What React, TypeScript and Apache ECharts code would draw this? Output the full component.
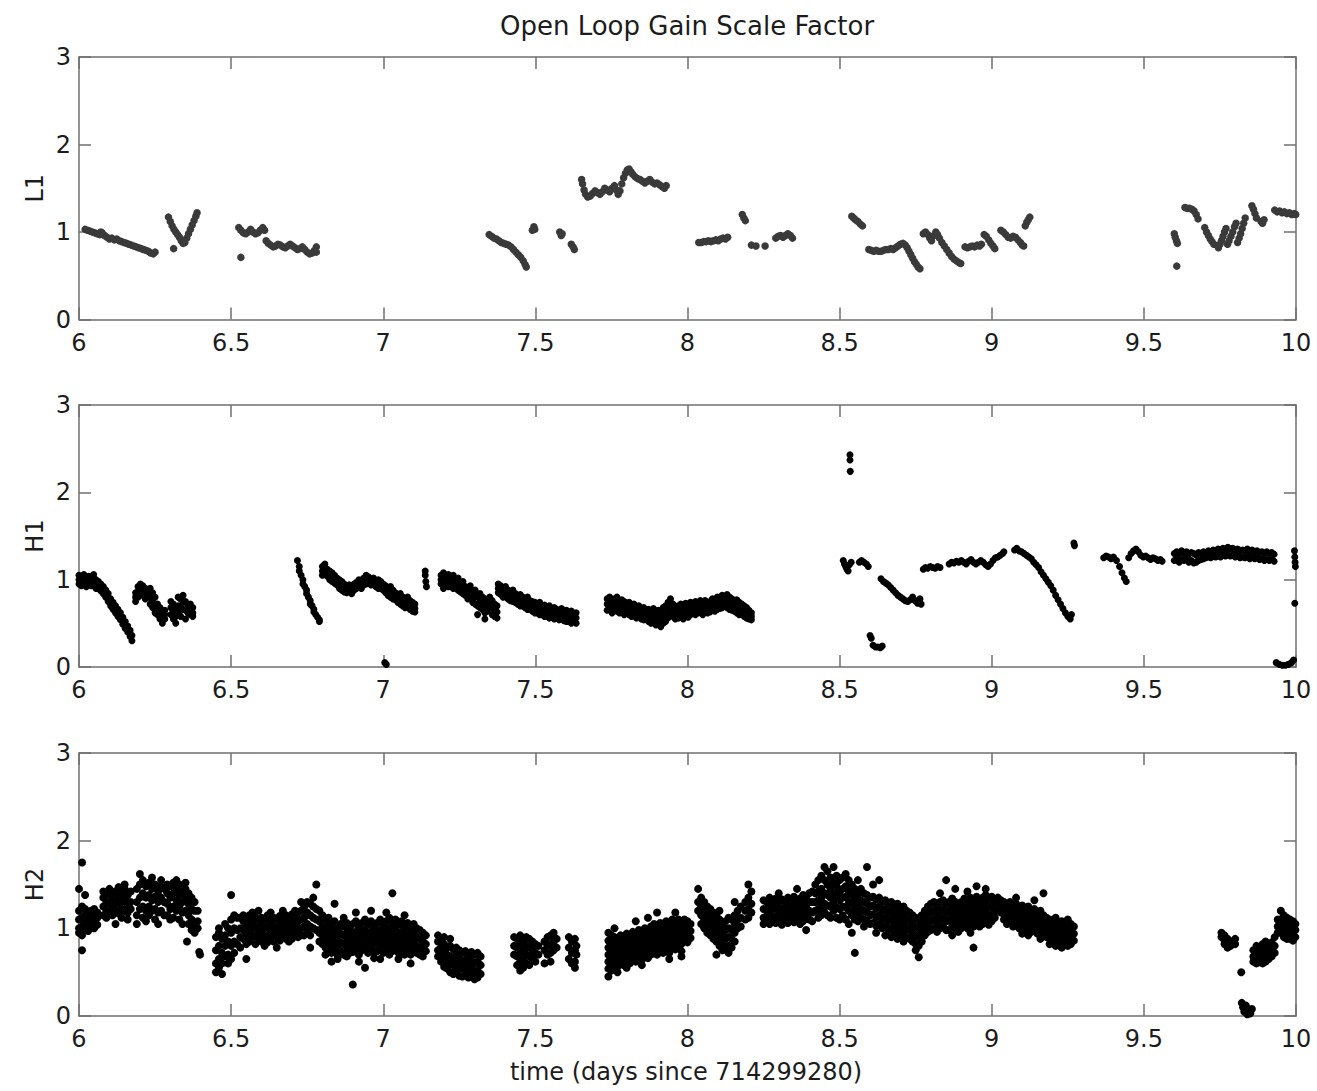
import React, { useEffect, useRef } from "react";
import * as echarts from "echarts";

const titleText = "Open Loop Gain Scale Factor";
const xAxisTitle = "time (days since 714299280)";
const panelNames = ["L1", "H1", "H2"];
const xMin = 6;
const xMax = 10;
const xStep = 0.5;
const yMin = 0;
const yMax = 3;
const yStep = 1;

// L1 gain samples [time, gain]
const l1Data: [number, number][] = [
  [6.02, 1.03], [6.028, 1.02], [6.036, 1.01], [6.044, 1.0], [6.052, 0.99], [6.06, 0.98], [6.068, 0.97], [6.072, 1.0], [6.076, 0.99], [6.084, 0.96],
  [6.092, 0.94], [6.1, 0.92], [6.108, 0.93], [6.116, 0.91], [6.124, 0.92], [6.132, 0.9], [6.14, 0.89], [6.148, 0.88], [6.156, 0.87], [6.164, 0.86],
  [6.172, 0.85], [6.18, 0.84], [6.188, 0.83], [6.196, 0.82], [6.204, 0.81], [6.212, 0.8], [6.22, 0.79], [6.228, 0.78], [6.236, 0.76], [6.244, 0.75], [6.25, 0.77],
  [6.294, 1.17], [6.3, 1.12], [6.306, 1.07], [6.312, 1.03], [6.318, 1.0], [6.324, 0.97], [6.33, 0.94], [6.336, 0.9], [6.342, 0.87], [6.348, 0.88],
  [6.354, 0.93], [6.36, 0.98], [6.366, 1.03], [6.372, 1.08], [6.378, 1.13], [6.384, 1.18], [6.388, 1.22], [6.311, 0.81],
  [6.525, 1.05], [6.532, 1.02], [6.54, 0.99], [6.548, 0.98], [6.556, 1.0], [6.564, 1.03], [6.572, 1.0], [6.58, 0.98], [6.588, 0.99], [6.596, 1.02],
  [6.604, 1.05], [6.61, 1.02], [6.532, 0.71],
  [6.615, 0.9], [6.622, 0.87], [6.63, 0.85], [6.638, 0.83], [6.646, 0.84], [6.654, 0.86], [6.662, 0.85], [6.67, 0.83], [6.678, 0.82], [6.686, 0.84],
  [6.694, 0.86], [6.702, 0.84], [6.71, 0.82], [6.718, 0.8], [6.726, 0.81], [6.734, 0.83], [6.742, 0.8], [6.75, 0.77], [6.758, 0.75], [6.766, 0.76],
  [6.774, 0.79], [6.78, 0.83], [6.78, 0.77],
  [7.348, 0.97], [7.356, 0.95], [7.364, 0.93], [7.372, 0.92], [7.38, 0.9], [7.388, 0.88], [7.396, 0.87], [7.404, 0.86], [7.412, 0.85], [7.42, 0.83],
  [7.428, 0.8], [7.436, 0.77], [7.444, 0.74], [7.452, 0.71], [7.46, 0.67], [7.466, 0.63], [7.47, 0.6],
  [7.49, 1.02], [7.495, 1.06], [7.498, 1.03], [7.58, 1.0], [7.585, 0.96], [7.588, 0.98], [7.618, 0.86], [7.624, 0.83], [7.628, 0.8],
  [7.652, 1.6], [7.655, 1.55], [7.66, 1.48], [7.665, 1.43], [7.672, 1.4], [7.68, 1.41], [7.688, 1.44], [7.696, 1.47], [7.704, 1.45], [7.712, 1.43],
  [7.72, 1.46], [7.728, 1.5], [7.736, 1.48], [7.744, 1.46], [7.752, 1.5], [7.76, 1.53], [7.766, 1.48], [7.772, 1.43], [7.778, 1.47], [7.784, 1.55],
  [7.79, 1.62], [7.796, 1.67], [7.802, 1.71], [7.808, 1.72], [7.814, 1.69], [7.82, 1.66], [7.828, 1.63], [7.836, 1.61], [7.844, 1.6], [7.852, 1.58],
  [7.86, 1.56], [7.868, 1.58], [7.876, 1.6], [7.884, 1.57], [7.892, 1.55], [7.9, 1.56], [7.908, 1.54], [7.916, 1.52], [7.924, 1.5], [7.93, 1.53],
  [8.037, 0.88], [8.045, 0.88], [8.053, 0.89], [8.061, 0.89], [8.069, 0.9], [8.077, 0.89], [8.085, 0.9], [8.093, 0.91], [8.101, 0.9], [8.109, 0.92],
  [8.117, 0.93], [8.125, 0.92], [8.132, 0.94],
  [8.18, 1.2], [8.185, 1.16], [8.19, 1.13], [8.21, 0.85], [8.225, 0.84], [8.255, 0.84],
  [8.29, 0.93], [8.298, 0.95], [8.306, 0.96], [8.314, 0.94], [8.322, 0.96], [8.33, 0.98], [8.338, 0.96], [8.345, 0.93],
  [8.54, 1.18], [8.546, 1.16], [8.552, 1.14], [8.56, 1.12], [8.568, 1.09], [8.575, 1.07],
  [8.596, 0.8], [8.604, 0.79], [8.612, 0.78], [8.62, 0.79], [8.628, 0.78], [8.636, 0.78], [8.644, 0.79], [8.652, 0.8], [8.66, 0.8], [8.668, 0.81],
  [8.676, 0.8], [8.684, 0.82], [8.692, 0.84], [8.7, 0.86], [8.708, 0.87], [8.716, 0.85], [8.722, 0.82], [8.728, 0.78], [8.734, 0.74], [8.74, 0.7],
  [8.746, 0.66], [8.752, 0.63], [8.758, 0.6], [8.764, 0.58],
  [8.775, 0.98], [8.782, 1.0], [8.79, 0.97], [8.796, 0.93], [8.802, 0.9], [8.81, 0.96], [8.816, 1.0], [8.822, 0.97], [8.828, 0.93], [8.836, 0.88],
  [8.844, 0.84], [8.852, 0.8], [8.86, 0.76], [8.868, 0.72], [8.876, 0.69], [8.884, 0.67], [8.892, 0.65], [8.898, 0.64],
  [8.912, 0.83], [8.92, 0.82], [8.928, 0.83], [8.936, 0.84], [8.944, 0.83], [8.952, 0.85], [8.96, 0.84], [8.966, 0.86],
  [8.975, 0.97], [8.982, 0.95], [8.99, 0.91], [8.997, 0.87], [9.004, 0.84], [9.01, 0.81],
  [9.03, 1.02], [9.038, 1.0], [9.046, 0.97], [9.054, 0.94], [9.062, 0.93], [9.07, 0.95], [9.078, 0.94], [9.086, 0.91], [9.094, 0.88], [9.1, 0.85], [9.105, 0.84],
  [9.11, 1.07], [9.115, 1.11], [9.12, 1.14], [9.125, 1.17],
  [9.6, 0.98], [9.603, 0.94], [9.607, 0.9], [9.61, 0.87], [9.608, 0.61],
  [9.635, 1.28], [9.642, 1.27], [9.65, 1.27], [9.658, 1.26], [9.665, 1.24], [9.672, 1.2], [9.678, 1.15],
  [9.7, 1.05], [9.706, 1.0], [9.712, 0.96], [9.718, 0.92], [9.724, 0.89], [9.73, 0.86],
  [9.745, 0.82], [9.75, 0.86], [9.755, 0.9], [9.76, 0.95], [9.765, 1.0], [9.77, 1.04],
  [9.775, 0.86], [9.78, 0.9], [9.786, 0.95], [9.792, 1.0], [9.798, 1.06], [9.803, 1.1],
  [9.808, 0.88], [9.813, 0.93], [9.818, 0.98], [9.823, 1.04], [9.828, 1.1], [9.833, 1.16],
  [9.855, 1.3], [9.86, 1.26], [9.865, 1.21], [9.87, 1.16],
  [9.885, 1.12], [9.89, 1.1], [9.895, 1.14],
  [9.93, 1.25], [9.938, 1.23], [9.946, 1.24], [9.954, 1.22], [9.962, 1.23], [9.97, 1.21], [9.978, 1.22], [9.986, 1.2], [9.994, 1.21], [9.999, 1.2],
];

// H1 gain samples: [time, gains at that time]
const h1Columns: [number, number[]][] = [
  [6.0, [1.05, 1.0, 0.95]], [6.008, [1.02, 0.97, 0.93]], [6.016, [1.06, 1.01, 0.97]], [6.024, [1.0, 0.96, 0.92]], [6.032, [1.04, 1.0, 0.96]],
  [6.04, [1.03, 0.98, 0.93]], [6.048, [1.06, 1.02, 0.97]], [6.056, [1.0, 0.95, 0.9]], [6.064, [0.98, 0.94, 0.9]], [6.072, [0.95, 0.91, 0.87]],
  [6.08, [0.92, 0.88, 0.84]], [6.088, [0.88, 0.84, 0.8]], [6.096, [0.84, 0.79, 0.75]], [6.104, [0.78, 0.74, 0.7]], [6.112, [0.74, 0.7, 0.66]],
  [6.12, [0.7, 0.66, 0.62]], [6.128, [0.66, 0.62, 0.58]], [6.136, [0.62, 0.58, 0.54]], [6.144, [0.57, 0.53, 0.49]], [6.152, [0.52, 0.48, 0.44]],
  [6.16, [0.47, 0.43, 0.4]], [6.168, [0.42, 0.38, 0.35]], [6.174, [0.36, 0.3]],
  [6.186, [0.85, 0.8, 0.75]], [6.194, [0.92, 0.86, 0.8]], [6.202, [0.95, 0.9, 0.85]], [6.21, [0.93, 0.87, 0.82]], [6.218, [0.9, 0.84, 0.78]],
  [6.226, [0.88, 0.84, 0.8]], [6.234, [0.9, 0.8, 0.72]], [6.242, [0.85, 0.76, 0.68]], [6.25, [0.8, 0.7, 0.62]], [6.258, [0.72, 0.66, 0.6]],
  [6.266, [0.68, 0.6, 0.55]], [6.274, [0.62, 0.56, 0.5]], [6.282, [0.65, 0.6, 0.55]],
  [6.302, [0.75, 0.68, 0.6]], [6.31, [0.72, 0.63, 0.55]], [6.318, [0.68, 0.58, 0.5]], [6.326, [0.8, 0.7, 0.62]], [6.334, [0.78, 0.68, 0.58]],
  [6.342, [0.82, 0.74, 0.66]], [6.35, [0.75, 0.65, 0.55]], [6.358, [0.7, 0.66, 0.62]], [6.366, [0.72, 0.66, 0.6]], [6.374, [0.68, 0.62, 0.58]],
  [6.718, [1.22]], [6.724, [1.15, 1.1]], [6.73, [1.05]], [6.736, [1.0, 0.95]], [6.742, [0.92]], [6.748, [0.88, 0.84]], [6.754, [0.8]],
  [6.76, [0.76, 0.72]], [6.766, [0.7]], [6.772, [0.66, 0.63]], [6.778, [0.6]], [6.784, [0.57]], [6.79, [0.54, 0.52]],
  [6.8, [1.15, 1.1, 1.05]], [6.808, [1.18, 1.13, 1.08]], [6.816, [1.12, 1.08, 1.04]], [6.824, [1.1, 1.05, 1.0]], [6.832, [1.08, 1.03, 0.98]],
  [6.84, [1.05, 1.0, 0.96]], [6.848, [1.02, 0.98, 0.94]], [6.856, [1.0, 0.95, 0.9]], [6.864, [0.98, 0.93, 0.88]], [6.872, [0.95, 0.9, 0.86]],
  [6.88, [0.92, 0.88, 0.85]], [6.888, [0.94, 0.9, 0.87]], [6.896, [0.9, 0.87, 0.84]], [6.904, [0.95, 0.91, 0.88]], [6.912, [0.97, 0.93, 0.9]],
  [6.92, [1.0, 0.96, 0.92]], [6.928, [0.98, 0.94, 0.9]], [6.936, [1.02, 0.98, 0.94]], [6.944, [1.05, 1.0, 0.95]], [6.952, [1.03, 0.99, 0.96]],
  [6.96, [1.0, 0.97, 0.94]], [6.968, [1.02, 0.98, 0.95]], [6.976, [0.98, 0.95, 0.92]], [6.984, [1.0, 0.95, 0.9]],
  [6.992, [0.98, 0.94, 0.9]], [7.0, [0.95, 0.91, 0.88]], [7.008, [0.93, 0.89, 0.85]], [7.016, [0.9, 0.86, 0.82]], [7.024, [0.92, 0.86, 0.8]],
  [7.032, [0.88, 0.83, 0.78]], [7.04, [0.85, 0.81, 0.77]], [7.048, [0.82, 0.78, 0.74]], [7.056, [0.84, 0.78, 0.72]], [7.064, [0.8, 0.75, 0.7]],
  [7.072, [0.78, 0.73, 0.68]], [7.08, [0.8, 0.75, 0.7]], [7.088, [0.76, 0.71, 0.66]], [7.096, [0.74, 0.69, 0.64]], [7.104, [0.72, 0.67, 0.63]],
  [7.005, [0.05]], [7.01, [0.03]],
  [7.138, [1.1, 1.05]], [7.14, [0.98]], [7.142, [0.92]],
  [7.19, [1.05, 1.0, 0.95]], [7.198, [1.08, 0.98, 0.9]], [7.206, [1.04, 1.0, 0.96]], [7.214, [1.06, 0.99, 0.92]], [7.222, [1.02, 0.98, 0.95]],
  [7.23, [1.05, 0.97, 0.9]], [7.238, [1.0, 0.96, 0.93]], [7.246, [1.02, 0.95, 0.88]], [7.254, [0.96, 0.91, 0.86]], [7.262, [0.98, 0.91, 0.84]],
  [7.27, [0.92, 0.87, 0.82]], [7.278, [0.9, 0.84, 0.78]], [7.286, [0.93, 0.86, 0.8]], [7.294, [0.86, 0.8, 0.74]], [7.302, [0.88, 0.8, 0.72]],
  [7.31, [0.82, 0.7, 0.6]], [7.318, [0.84, 0.76, 0.68]], [7.326, [0.8, 0.73, 0.66]], [7.334, [0.78, 0.62, 0.55]], [7.342, [0.75, 0.7, 0.64]],
  [7.35, [0.8, 0.74, 0.68]], [7.358, [0.76, 0.68, 0.6]], [7.366, [0.72, 0.65, 0.58]], [7.374, [0.7, 0.63, 0.56]],
  [7.378, [0.95, 0.9, 0.85]], [7.386, [0.93, 0.88, 0.83]], [7.394, [0.9, 0.85, 0.8]], [7.402, [0.92, 0.87, 0.82]], [7.41, [0.88, 0.83, 0.78]],
  [7.418, [0.86, 0.81, 0.76]], [7.426, [0.88, 0.82, 0.75]], [7.434, [0.84, 0.79, 0.74]], [7.442, [0.82, 0.77, 0.72]], [7.45, [0.83, 0.77, 0.7]],
  [7.458, [0.8, 0.75, 0.7]], [7.466, [0.78, 0.73, 0.68]], [7.474, [0.8, 0.73, 0.66]], [7.482, [0.76, 0.71, 0.66]], [7.49, [0.75, 0.7, 0.64]],
  [7.498, [0.74, 0.68, 0.62]], [7.506, [0.72, 0.67, 0.62]], [7.514, [0.74, 0.67, 0.6]], [7.522, [0.7, 0.65, 0.6]], [7.53, [0.71, 0.65, 0.58]],
  [7.538, [0.68, 0.63, 0.58]], [7.546, [0.7, 0.63, 0.56]], [7.554, [0.67, 0.62, 0.57]], [7.562, [0.68, 0.61, 0.55]], [7.57, [0.66, 0.61, 0.56]],
  [7.578, [0.65, 0.6, 0.54]], [7.586, [0.67, 0.61, 0.55]], [7.594, [0.64, 0.58, 0.53]], [7.602, [0.65, 0.58, 0.52]], [7.61, [0.62, 0.57, 0.52]],
  [7.618, [0.64, 0.57, 0.5]], [7.626, [0.6, 0.56, 0.52]], [7.634, [0.62, 0.56, 0.5]],
  [7.736, [0.78, 0.72, 0.65]], [7.744, [0.8, 0.74, 0.68]], [7.752, [0.76, 0.69, 0.62]], [7.76, [0.78, 0.72, 0.66]], [7.768, [0.8, 0.72, 0.64]],
  [7.776, [0.74, 0.68, 0.62]], [7.784, [0.77, 0.7, 0.64]], [7.792, [0.75, 0.68, 0.6]], [7.8, [0.72, 0.67, 0.62]], [7.808, [0.74, 0.67, 0.6]],
  [7.816, [0.7, 0.64, 0.58]], [7.824, [0.72, 0.66, 0.6]], [7.832, [0.68, 0.62, 0.56]], [7.84, [0.7, 0.64, 0.58]], [7.848, [0.66, 0.6, 0.55]],
  [7.856, [0.68, 0.61, 0.54]], [7.864, [0.65, 0.6, 0.55]], [7.872, [0.66, 0.59, 0.52]], [7.88, [0.64, 0.57, 0.5]], [7.888, [0.67, 0.6, 0.52]],
  [7.896, [0.62, 0.55, 0.48]], [7.904, [0.65, 0.57, 0.5]], [7.912, [0.62, 0.54, 0.46]], [7.92, [0.68, 0.59, 0.5]], [7.928, [0.7, 0.61, 0.52]],
  [7.936, [0.74, 0.65, 0.56]], [7.944, [0.78, 0.69, 0.6]], [7.952, [0.72, 0.65, 0.58]], [7.96, [0.68, 0.62, 0.55]],
  [7.97, [0.7, 0.63, 0.56]], [7.978, [0.72, 0.65, 0.58]], [7.986, [0.68, 0.62, 0.55]], [7.994, [0.73, 0.66, 0.6]], [8.002, [0.7, 0.63, 0.57]],
  [8.01, [0.74, 0.67, 0.6]], [8.018, [0.72, 0.67, 0.62]], [8.026, [0.75, 0.68, 0.6]], [8.034, [0.73, 0.67, 0.62]], [8.042, [0.76, 0.7, 0.63]],
  [8.05, [0.74, 0.67, 0.6]], [8.058, [0.76, 0.7, 0.64]], [8.066, [0.72, 0.67, 0.62]], [8.074, [0.75, 0.69, 0.63]], [8.082, [0.78, 0.72, 0.65]],
  [8.09, [0.76, 0.7, 0.64]], [8.098, [0.8, 0.73, 0.66]], [8.106, [0.78, 0.72, 0.67]], [8.114, [0.82, 0.75, 0.68]], [8.122, [0.8, 0.75, 0.7]],
  [8.13, [0.83, 0.76, 0.68]], [8.138, [0.8, 0.73, 0.66]], [8.146, [0.78, 0.71, 0.65]], [8.154, [0.76, 0.7, 0.64]], [8.162, [0.77, 0.7, 0.62]],
  [8.17, [0.74, 0.67, 0.6]], [8.178, [0.72, 0.67, 0.62]], [8.186, [0.7, 0.64, 0.58]], [8.194, [0.68, 0.62, 0.56]], [8.202, [0.65, 0.6, 0.55]],
  [8.21, [0.62, 0.58, 0.54]],
  [8.534, [2.43, 2.37]], [8.535, [2.24]],
  [8.512, [1.22]], [8.516, [1.18]], [8.52, [1.15]], [8.524, [1.12]], [8.528, [1.1]], [8.532, [1.17]], [8.538, [1.2]],
  [8.565, [1.2]], [8.572, [1.22]], [8.58, [1.2]], [8.588, [1.18]], [8.594, [1.15]],
  [8.636, [1.01]], [8.644, [0.98]], [8.652, [0.96]], [8.66, [0.94]], [8.668, [0.91]], [8.676, [0.88]], [8.684, [0.85]], [8.692, [0.82]],
  [8.7, [0.8]], [8.708, [0.78]], [8.716, [0.76]], [8.724, [0.75]], [8.732, [0.77]], [8.74, [0.8]], [8.748, [0.76]], [8.756, [0.73]],
  [8.764, [0.78]], [8.768, [0.72]],
  [8.6, [0.36]], [8.604, [0.33]], [8.61, [0.25]], [8.618, [0.23]], [8.626, [0.23]], [8.634, [0.22]], [8.64, [0.24]],
  [8.775, [1.12]], [8.782, [1.14]], [8.79, [1.13]], [8.798, [1.15]], [8.806, [1.14]], [8.814, [1.13]], [8.822, [1.15]], [8.83, [1.14]],
  [8.86, [1.18]], [8.868, [1.2]], [8.876, [1.19]], [8.884, [1.21]], [8.892, [1.2]], [8.9, [1.22]], [8.908, [1.2]], [8.916, [1.18]],
  [8.924, [1.21]], [8.932, [1.23]], [8.94, [1.2]], [8.948, [1.18]], [8.956, [1.2]], [8.964, [1.22]], [8.972, [1.2]], [8.98, [1.17]],
  [8.988, [1.15]], [8.996, [1.18]], [9.004, [1.22]], [9.012, [1.25]], [9.02, [1.26]], [9.028, [1.28]], [9.036, [1.3]], [9.04, [1.32]],
  [9.075, [1.34]], [9.082, [1.36]], [9.09, [1.33]], [9.098, [1.32]], [9.106, [1.3]], [9.114, [1.28]], [9.122, [1.26]], [9.13, [1.24]],
  [9.138, [1.2]], [9.146, [1.17]], [9.154, [1.14]], [9.162, [1.09]], [9.17, [1.05]], [9.178, [1.01]], [9.186, [0.97]], [9.194, [0.93]],
  [9.202, [0.88]], [9.21, [0.82]], [9.218, [0.77]], [9.226, [0.72]], [9.234, [0.67]], [9.242, [0.62]], [9.25, [0.58]], [9.258, [0.55]], [9.262, [0.6]],
  [9.27, [1.42]], [9.272, [1.39]],
  [9.368, [1.25]], [9.376, [1.27]], [9.384, [1.26]], [9.392, [1.24]], [9.4, [1.26]], [9.41, [1.22]], [9.42, [1.15]], [9.428, [1.08]],
  [9.436, [1.02]], [9.442, [0.98]],
  [9.45, [1.25]], [9.458, [1.3]], [9.466, [1.33]], [9.474, [1.35]], [9.482, [1.32]], [9.49, [1.28]], [9.498, [1.26]], [9.506, [1.27]],
  [9.514, [1.25]], [9.522, [1.23]], [9.53, [1.25]], [9.538, [1.24]], [9.546, [1.22]], [9.554, [1.23]], [9.56, [1.21]],
  [9.6, [1.3, 1.22]], [9.608, [1.32, 1.24]], [9.616, [1.3, 1.2]], [9.624, [1.33, 1.23]], [9.632, [1.3, 1.22]], [9.64, [1.32, 1.25]],
  [9.648, [1.29, 1.2]], [9.656, [1.31, 1.22]], [9.664, [1.3, 1.19]], [9.672, [1.28, 1.2]], [9.68, [1.31, 1.22]], [9.688, [1.3, 1.23]],
  [9.696, [1.32, 1.24]], [9.704, [1.31, 1.25]], [9.712, [1.33, 1.26]], [9.72, [1.32, 1.25]], [9.728, [1.34, 1.27]], [9.736, [1.33, 1.26]],
  [9.744, [1.35, 1.27]], [9.752, [1.34, 1.26]], [9.76, [1.36, 1.28]], [9.768, [1.34, 1.27]], [9.776, [1.37, 1.28]], [9.784, [1.35, 1.27]],
  [9.792, [1.36, 1.28]], [9.8, [1.34, 1.26]], [9.808, [1.35, 1.27]], [9.816, [1.33, 1.25]], [9.824, [1.34, 1.26]], [9.832, [1.33, 1.25]],
  [9.84, [1.35, 1.27]], [9.848, [1.33, 1.24]], [9.856, [1.34, 1.26]], [9.864, [1.32, 1.24]], [9.872, [1.33, 1.25]], [9.88, [1.31, 1.23]],
  [9.888, [1.32, 1.24]], [9.896, [1.3, 1.22]], [9.904, [1.32, 1.23]], [9.912, [1.3, 1.22]], [9.92, [1.31, 1.23]], [9.928, [1.29, 1.21]],
  [9.995, [1.33]], [9.996, [1.26, 0.73]], [9.997, [1.2]], [9.998, [1.15]],
  [9.935, [0.05]], [9.945, [0.03]], [9.955, [0.02]], [9.965, [0.02]], [9.975, [0.03]], [9.985, [0.05]], [9.992, [0.08]],
];

// H2 gain samples: [time, gains at that time]
const h2Columns: [number, number[]][] = [
  [6.0, [1.2, 1.1, 1.0, 0.95, 1.45]], [6.01, [1.25, 1.12, 1.02, 0.92, 1.75, 0.75]], [6.02, [1.22, 1.08, 0.98, 1.15, 1.38]],
  [6.03, [1.18, 1.05, 0.97, 1.12]], [6.04, [1.2, 1.1, 1.02, 1.14]], [6.05, [1.15, 1.05, 1.0, 1.22]], [6.06, [1.12, 1.04, 1.18]],
  [6.08, [1.35, 1.25, 1.15, 1.42]], [6.09, [1.4, 1.3, 1.2, 1.12]], [6.1, [1.38, 1.28, 1.18, 1.45]], [6.11, [1.33, 1.25, 1.15, 1.4]],
  [6.12, [1.42, 1.3, 1.2, 1.05]], [6.13, [1.36, 1.28, 1.17, 1.47]], [6.14, [1.4, 1.3, 1.22, 1.12]], [6.15, [1.45, 1.33, 1.2, 1.5]],
  [6.16, [1.38, 1.27, 1.18, 1.1]], [6.17, [1.42, 1.3, 1.22]],
  [6.19, [1.45, 1.3, 1.15, 1.05]], [6.2, [1.5, 1.35, 1.22, 1.62]], [6.21, [1.55, 1.4, 1.25, 1.12]], [6.22, [1.48, 1.35, 1.2, 1.08]],
  [6.23, [1.52, 1.38, 1.25, 1.15]], [6.24, [1.45, 1.32, 1.2, 1.58]], [6.25, [1.5, 1.36, 1.22, 1.1]], [6.26, [1.42, 1.3, 1.18, 1.05]],
  [6.27, [1.48, 1.35, 1.2, 1.55]], [6.28, [1.45, 1.3, 1.15]], [6.29, [1.4, 1.28, 1.15, 1.5]], [6.3, [1.48, 1.35, 1.22, 1.1]],
  [6.31, [1.52, 1.4, 1.25, 1.12]], [6.32, [1.45, 1.32, 1.2, 1.55]], [6.33, [1.5, 1.38, 1.25, 1.1]], [6.34, [1.42, 1.3, 1.18, 1.05]],
  [6.35, [1.45, 1.35, 1.2, 1.52]], [6.36, [1.4, 1.28, 1.15, 1.05]], [6.37, [1.35, 1.22, 1.1, 0.98]], [6.38, [1.3, 1.2, 1.05, 0.95]],
  [6.39, [1.2, 1.08, 1.0]], [6.355, [0.85]], [6.395, [0.73]], [6.398, [0.7]],
  [6.45, [0.9, 0.75, 0.6, 0.5]], [6.46, [0.95, 0.8, 0.65, 0.55, 1.0]], [6.47, [0.88, 0.72, 0.6, 0.48]], [6.48, [0.92, 0.8, 0.68, 1.05]],
  [6.49, [1.0, 0.85, 0.7, 0.6]], [6.5, [1.1, 0.95, 0.8, 0.65, 1.38]], [6.51, [1.15, 1.0, 0.85, 0.72]], [6.52, [1.12, 0.98, 0.82]],
  [6.53, [1.12, 1.0, 0.9, 0.78]], [6.54, [1.08, 0.98, 0.88, 1.15]], [6.55, [1.1, 1.02, 0.92, 0.82, 0.65]], [6.56, [1.15, 1.05, 0.95, 0.85]],
  [6.57, [1.08, 1.0, 0.9, 1.18]], [6.58, [1.12, 1.02, 0.92, 0.82]], [6.59, [1.1, 0.98, 0.88, 1.2]], [6.6, [1.05, 0.95, 0.85, 1.12]],
  [6.61, [1.1, 1.0, 0.9, 0.8]], [6.62, [1.15, 1.02, 0.92, 0.84]], [6.63, [1.08, 0.98, 0.88, 1.18]], [6.64, [1.12, 1.02, 0.94, 0.85]],
  [6.65, [1.1, 1.0, 0.9, 0.78]], [6.66, [1.14, 1.04, 0.95, 0.86]], [6.67, [1.1, 1.0, 0.92, 1.2]], [6.68, [1.15, 1.05, 0.96, 0.88]],
  [6.69, [1.12, 1.02, 0.93, 0.85]], [6.7, [1.16, 1.06, 0.97, 0.88]], [6.71, [1.12, 1.03, 0.95, 1.2]], [6.72, [1.18, 1.08, 0.98, 0.9]],
  [6.73, [1.2, 1.1, 1.0, 0.92, 1.3]], [6.74, [1.25, 1.12, 1.02, 0.92]],
  [6.75, [1.3, 1.18, 1.05, 0.95]], [6.76, [1.28, 1.15, 1.02, 0.92, 0.78]], [6.77, [1.25, 1.12, 1.0, 1.35]], [6.78, [1.22, 1.1, 0.98, 1.5]],
  [6.79, [1.2, 1.08, 0.95, 0.85]], [6.8, [1.15, 1.02, 0.92, 0.82]],
  [6.81, [1.1, 0.98, 0.88, 0.78, 0.7]], [6.82, [1.05, 0.95, 0.85, 0.75, 1.12]], [6.83, [1.02, 0.92, 0.82, 0.72, 0.62]],
  [6.84, [1.08, 0.96, 0.86, 0.76, 1.28]], [6.85, [1.0, 0.9, 0.8, 0.7, 0.65]], [6.86, [1.05, 0.94, 0.84, 0.74]],
  [6.87, [1.02, 0.92, 0.82, 0.7, 1.12]], [6.88, [1.06, 0.95, 0.85, 0.75, 0.68]], [6.89, [1.0, 0.9, 0.8, 0.72]],
  [6.9, [1.05, 0.93, 0.83, 0.73, 0.36]], [6.91, [1.08, 0.96, 0.86, 0.76, 1.18]], [6.92, [1.02, 0.92, 0.82, 0.7, 0.62]],
  [6.93, [1.06, 0.95, 0.85, 0.75]], [6.94, [1.1, 0.98, 0.88, 0.78, 0.55]], [6.95, [1.04, 0.93, 0.83, 0.72]],
  [6.96, [1.08, 0.96, 0.86, 0.76, 1.2]], [6.97, [1.02, 0.92, 0.82, 0.72, 0.66]], [6.98, [1.06, 0.95, 0.85, 0.74]],
  [6.99, [1.1, 0.98, 0.88, 0.78, 0.65]], [7.0, [1.04, 0.93, 0.83, 0.72]], [7.01, [1.08, 0.97, 0.87, 0.77, 1.18]],
  [7.02, [1.12, 1.0, 0.9, 0.8, 0.7]], [7.03, [1.05, 0.94, 0.84, 0.74, 1.4]], [7.04, [1.1, 0.98, 0.88, 0.78]],
  [7.05, [1.04, 0.93, 0.83, 0.72, 0.65]], [7.06, [1.08, 0.96, 0.86, 0.76]], [7.07, [1.02, 0.92, 0.82, 0.7, 1.15]],
  [7.08, [1.06, 0.95, 0.85, 0.75]], [7.09, [1.0, 0.9, 0.8, 0.7, 0.6]], [7.1, [1.05, 0.94, 0.84, 0.74]],
  [7.11, [1.0, 0.9, 0.8, 0.72]], [7.12, [0.98, 0.88, 0.78, 0.7]], [7.13, [0.95, 0.85, 0.76, 0.68]], [7.14, [0.92, 0.82, 0.74]],
  [7.18, [0.92, 0.85, 0.75, 0.68]], [7.19, [0.88, 0.78, 0.7, 0.62]], [7.2, [0.82, 0.72, 0.64, 0.56, 0.9]], [7.21, [0.78, 0.7, 0.62, 0.54]],
  [7.22, [0.8, 0.68, 0.6, 0.5, 0.88]], [7.23, [0.76, 0.66, 0.58, 0.48]], [7.24, [0.78, 0.7, 0.6, 0.52]], [7.25, [0.75, 0.65, 0.56, 0.46]],
  [7.26, [0.72, 0.62, 0.54, 0.45]], [7.27, [0.74, 0.64, 0.55, 0.47]], [7.28, [0.7, 0.6, 0.52, 0.44]], [7.29, [0.73, 0.63, 0.54, 0.45]],
  [7.3, [0.7, 0.6, 0.5, 0.42]], [7.31, [0.72, 0.62, 0.52, 0.44]], [7.32, [0.68, 0.58, 0.48]],
  [7.43, [0.9, 0.8, 0.7]], [7.44, [0.88, 0.78, 0.68, 0.58]], [7.45, [0.92, 0.82, 0.72, 0.62, 0.52]], [7.46, [0.85, 0.75, 0.65, 0.55]],
  [7.47, [0.9, 0.8, 0.7, 0.6]], [7.48, [0.88, 0.78, 0.68, 0.58]], [7.49, [0.85, 0.75, 0.65]], [7.5, [0.82, 0.72, 0.62]], [7.51, [0.8, 0.7]],
  [7.53, [0.85, 0.75, 0.6]], [7.54, [0.9, 0.8, 0.7]], [7.55, [0.92, 0.82, 0.72, 0.62]], [7.56, [0.95, 0.85, 0.75]], [7.57, [0.88, 0.78]],
  [7.61, [0.9, 0.78, 0.65]], [7.62, [0.85, 0.72, 0.6]], [7.63, [0.88, 0.75, 0.62, 0.55]], [7.635, [0.8, 0.7]],
  [7.74, [0.95, 0.86, 0.78, 0.7, 0.62, 0.54, 0.45]], [7.75, [0.92, 0.84, 0.76, 0.68, 0.6, 0.52]], [7.76, [0.9, 0.82, 0.74, 0.66, 0.58, 1.0]],
  [7.77, [0.88, 0.8, 0.72, 0.64, 0.56, 0.5]], [7.78, [0.92, 0.84, 0.76, 0.68, 0.6]], [7.79, [0.9, 0.82, 0.74, 0.66, 0.58]],
  [7.8, [0.94, 0.86, 0.78, 0.7, 0.62, 0.55]], [7.81, [0.92, 0.84, 0.76, 0.68, 0.6]], [7.82, [0.96, 0.88, 0.8, 0.72, 0.64]],
  [7.83, [0.94, 0.86, 0.78, 0.7, 0.62, 1.08]], [7.84, [0.98, 0.9, 0.82, 0.74, 0.66]], [7.85, [0.96, 0.88, 0.8, 0.72, 0.64, 0.58]],
  [7.86, [1.0, 0.92, 0.84, 0.76, 0.68]], [7.87, [0.98, 0.9, 0.82, 0.74, 0.66, 1.12]], [7.88, [1.02, 0.94, 0.86, 0.78, 0.7]],
  [7.89, [1.05, 0.96, 0.88, 0.8, 0.72]], [7.9, [1.02, 0.94, 0.86, 0.78, 0.7, 1.18]], [7.91, [1.06, 0.98, 0.9, 0.82, 0.74]],
  [7.92, [1.04, 0.96, 0.88, 0.8, 0.72]], [7.93, [1.08, 1.0, 0.92, 0.84, 0.76]], [7.94, [1.05, 0.97, 0.89, 0.81, 0.72, 0.65]],
  [7.95, [1.1, 1.02, 0.94, 0.86, 0.78]], [7.96, [1.08, 1.0, 0.92, 0.84, 0.76, 1.18]], [7.97, [1.1, 1.02, 0.94, 0.86, 0.8]],
  [7.98, [1.06, 0.98, 0.9, 0.82, 0.74, 0.68]], [7.99, [1.1, 1.02, 0.94, 0.86]], [8.0, [1.08, 1.0, 0.92, 0.84]], [8.01, [1.05, 0.97, 0.89]],
  [8.035, [1.45, 1.3, 1.2]], [8.045, [1.35, 1.25, 1.15, 1.05]], [8.055, [1.3, 1.2, 1.1, 1.0]], [8.065, [1.25, 1.15, 1.05, 0.95]],
  [8.075, [1.22, 1.12, 1.02, 0.92]], [8.085, [1.18, 1.08, 0.98, 0.88]], [8.095, [1.15, 1.05, 0.95, 0.85, 0.7]], [8.105, [1.1, 1.0, 0.9, 0.8, 1.2]],
  [8.115, [1.05, 0.95, 0.85, 0.75]], [8.125, [1.08, 0.98, 0.88, 0.78]], [8.135, [1.12, 1.0, 0.9, 0.8, 0.72]], [8.145, [1.1, 0.98, 0.88, 0.78]],
  [8.155, [1.15, 1.05, 0.95, 0.85, 1.3]], [8.165, [1.2, 1.1, 1.0]], [8.175, [1.25, 1.12, 1.02]],
  [8.19, [1.3, 1.2, 1.1]], [8.2, [1.5, 1.35, 1.22, 1.12]], [8.21, [1.42, 1.28, 1.18]],
  [8.25, [1.32, 1.22, 1.12, 1.05]], [8.26, [1.3, 1.2, 1.1]], [8.27, [1.35, 1.25, 1.15, 1.05]], [8.28, [1.3, 1.22, 1.12]],
  [8.29, [1.34, 1.24, 1.14, 1.06]], [8.3, [1.3, 1.2, 1.1, 1.4]], [8.31, [1.33, 1.23, 1.13, 1.04]], [8.32, [1.3, 1.2, 1.1]],
  [8.33, [1.35, 1.25, 1.15, 1.06]], [8.34, [1.32, 1.22, 1.12]], [8.35, [1.36, 1.26, 1.16, 1.07]], [8.36, [1.3, 1.2, 1.1, 1.45]],
  [8.37, [1.34, 1.24, 1.14, 1.05]], [8.38, [1.38, 1.28, 1.18, 1.08]], [8.39, [1.35, 1.25, 1.15, 0.98]], [8.4, [1.4, 1.3, 1.2, 1.1]],
  [8.41, [1.42, 1.3, 1.18, 1.08]],
  [8.42, [1.5, 1.4, 1.3, 1.2]], [8.43, [1.55, 1.42, 1.32, 1.22, 1.12]], [8.44, [1.6, 1.45, 1.35, 1.25, 1.15]], [8.45, [1.7, 1.55, 1.4, 1.28, 1.18]],
  [8.46, [1.65, 1.5, 1.38, 1.26, 1.15]], [8.47, [1.58, 1.45, 1.35, 1.25, 1.12]], [8.48, [1.7, 1.52, 1.4, 1.3, 1.2]], [8.49, [1.6, 1.48, 1.36, 1.24, 1.12]],
  [8.5, [1.55, 1.42, 1.32, 1.22, 1.1]], [8.51, [1.58, 1.45, 1.35, 1.25, 1.15]], [8.52, [1.62, 1.48, 1.36, 1.24, 1.1]], [8.53, [1.55, 1.42, 1.3, 1.2, 1.05]],
  [8.54, [1.5, 1.38, 1.28, 1.15, 0.95]], [8.55, [1.45, 1.32, 1.22, 1.1, 0.72]],
  [8.56, [1.55, 1.38, 1.28, 1.18, 1.08]], [8.57, [1.45, 1.32, 1.22, 1.12]], [8.58, [1.4, 1.3, 1.2, 1.1, 1.02]], [8.59, [1.38, 1.28, 1.18, 1.08, 1.7]],
  [8.6, [1.35, 1.25, 1.15, 1.05]], [8.61, [1.36, 1.26, 1.16, 1.06, 1.5]], [8.62, [1.33, 1.23, 1.13, 1.03, 0.95]], [8.63, [1.35, 1.25, 1.15, 1.05, 1.55]],
  [8.64, [1.3, 1.2, 1.1, 1.0]], [8.65, [1.32, 1.22, 1.12, 1.02, 0.92]], [8.66, [1.28, 1.18, 1.08, 0.98]], [8.67, [1.3, 1.2, 1.1, 1.0, 0.9]],
  [8.68, [1.25, 1.15, 1.05, 0.95]], [8.69, [1.28, 1.18, 1.08, 0.98, 0.88]], [8.7, [1.22, 1.12, 1.02, 0.92]], [8.71, [1.25, 1.15, 1.05, 0.95, 0.85]],
  [8.72, [1.2, 1.1, 1.0, 0.9]], [8.73, [1.18, 1.08, 0.98, 0.88]], [8.74, [1.15, 1.05, 0.95, 0.85]], [8.75, [1.12, 1.02, 0.92, 0.82, 0.75]],
  [8.76, [1.1, 1.0, 0.9, 0.8, 0.67]],
  [8.77, [1.15, 1.05, 0.95, 0.85]], [8.78, [1.2, 1.1, 1.0, 0.92]], [8.79, [1.25, 1.15, 1.05, 0.96]], [8.8, [1.28, 1.18, 1.08, 0.98]],
  [8.81, [1.3, 1.2, 1.1, 1.0]], [8.82, [1.26, 1.16, 1.06, 0.96]], [8.83, [1.3, 1.2, 1.1, 1.0, 1.4]], [8.84, [1.32, 1.22, 1.12, 1.02]],
  [8.85, [1.28, 1.18, 1.08, 0.98, 1.55]], [8.86, [1.3, 1.2, 1.1, 0.98]], [8.87, [1.34, 1.24, 1.14, 1.04, 0.92]], [8.88, [1.3, 1.2, 1.1, 1.0, 1.45]],
  [8.89, [1.26, 1.16, 1.06, 0.96]], [8.9, [1.3, 1.2, 1.1, 1.0]], [8.91, [1.34, 1.24, 1.14, 1.04]], [8.92, [1.3, 1.2, 1.1, 1.0, 1.42]],
  [8.93, [1.35, 1.25, 1.15, 1.05, 0.95]], [8.94, [1.32, 1.22, 1.12, 1.02, 0.78]], [8.95, [1.36, 1.26, 1.16, 1.06, 1.48]], [8.96, [1.32, 1.22, 1.12, 1.02]],
  [8.97, [1.35, 1.25, 1.15, 1.05]], [8.98, [1.38, 1.28, 1.18, 1.08, 1.45]], [8.99, [1.34, 1.24, 1.14, 1.04]], [9.0, [1.36, 1.26, 1.16, 1.08]],
  [9.01, [1.3, 1.2, 1.12]],
  [9.02, [1.35, 1.28, 1.2]], [9.03, [1.32, 1.25, 1.18]], [9.04, [1.3, 1.24, 1.16, 1.1]], [9.05, [1.28, 1.2, 1.12, 1.05]],
  [9.06, [1.3, 1.22, 1.14, 1.06]], [9.07, [1.26, 1.18, 1.1, 1.02]], [9.08, [1.28, 1.2, 1.12, 1.04, 1.35]], [9.09, [1.24, 1.16, 1.08, 1.0]],
  [9.1, [1.26, 1.18, 1.1, 1.02, 0.94]], [9.11, [1.22, 1.14, 1.06, 0.98]], [9.12, [1.25, 1.16, 1.08, 1.0, 0.92]], [9.13, [1.2, 1.12, 1.04, 0.96]],
  [9.14, [1.22, 1.14, 1.06, 0.98, 1.32]], [9.15, [1.18, 1.1, 1.02, 0.94]], [9.16, [1.2, 1.12, 1.04, 0.96, 0.88]], [9.17, [1.15, 1.08, 1.0, 0.92, 1.4]],
  [9.18, [1.12, 1.05, 0.98, 0.9]], [9.19, [1.1, 1.02, 0.95, 0.88, 0.82]], [9.2, [1.08, 1.0, 0.93, 0.86]], [9.21, [1.12, 1.04, 0.96, 0.88, 0.8]],
  [9.22, [1.06, 0.98, 0.92, 0.85]], [9.23, [1.08, 1.0, 0.92, 0.84, 0.78]], [9.24, [1.05, 0.98, 0.9, 0.82]], [9.25, [1.1, 1.02, 0.94, 0.86, 0.8]],
  [9.26, [1.05, 0.96, 0.88, 0.82]], [9.27, [1.02, 0.94, 0.86]],
  [9.755, [0.95, 0.9]], [9.765, [0.92, 0.86, 0.82]], [9.775, [0.88, 0.82, 0.78]], [9.785, [0.85, 0.8]], [9.8, [0.88, 0.82]], [9.82, [0.5]],
  [9.822, [0.15]], [9.826, [0.1]], [9.83, [0.05]], [9.835, [0.12]], [9.84, [0.02]], [9.845, [0.06]], [9.85, [0.03]], [9.855, [0.08]],
  [9.86, [0.75, 0.68, 0.62]], [9.87, [0.8, 0.72, 0.64, 0.6]], [9.88, [0.78, 0.7, 0.62]], [9.89, [0.82, 0.74, 0.66, 0.6]],
  [9.9, [0.85, 0.76, 0.68, 0.62]], [9.91, [0.8, 0.72, 0.65]], [9.92, [0.84, 0.76, 0.68]], [9.93, [0.9, 0.8, 0.72]],
  [9.94, [1.1, 1.02, 0.95]], [9.95, [1.2, 1.1, 1.02, 0.95]], [9.96, [1.15, 1.06, 0.98, 0.9]], [9.97, [1.12, 1.04, 0.96, 0.88]],
  [9.98, [1.1, 1.02, 0.95, 0.88]], [9.99, [1.08, 1.0, 0.92, 0.86]], [9.998, [1.05, 0.98, 0.9]],
];

const FONT = "'DejaVu Sans', 'Liberation Sans', Arial, sans-serif";
const FRAME = "#6f6f6f";
const TEXT = "#1c1c1c";

function toPoints(cols: [number, number[]][]): [number, number][] {
  const out: [number, number][] = [];
  cols.forEach(([x, ys]) => ys.forEach((y) => out.push([x, y])));
  return out;
}

export default function App() {
  const ref = useRef<HTMLDivElement>(null);

  useEffect(() => {
    if (!ref.current) return;
    const chart = echarts.init(ref.current, undefined, { renderer: "svg" });

    const gridTops = [57, 405, 753];
    const gridHeights = [262.5, 262, 263];
    const grids = gridTops.map((t, i) => ({ left: 79, width: 1217, top: t, height: gridHeights[i], show: false }));

    const lineStyle = { color: FRAME, width: 1.5 };
    const xAxes: any[] = [];
    const yAxes: any[] = [];
    grids.forEach((_, i) => {
      const baseX = {
        type: "value",
        gridIndex: i,
        min: xMin,
        max: xMax,
        interval: xStep,
        splitLine: { show: false },
        axisLine: { show: true, onZero: false, lineStyle },
        axisTick: { show: true, inside: true, length: 12, lineStyle },
      };
      xAxes.push({
        ...baseX,
        position: "bottom",
        axisLabel: {
          show: true,
          fontSize: 24,
          fontFamily: FONT,
          color: TEXT,
          margin: 11,
          formatter: (v: number) => String(v),
        },
      });
      xAxes.push({ ...baseX, position: "top", axisLabel: { show: false } });
      const baseY = {
        type: "value",
        gridIndex: i,
        min: yMin,
        max: yMax,
        interval: yStep,
        splitLine: { show: false },
        axisLine: { show: true, onZero: false, lineStyle },
        axisTick: { show: true, inside: true, length: 12, lineStyle },
      };
      yAxes.push({
        ...baseY,
        position: "left",
        axisLabel: { show: true, fontSize: 24, fontFamily: FONT, color: TEXT, margin: 8 },
      });
      yAxes.push({ ...baseY, position: "right", axisLabel: { show: false } });
    });

    const seriesDefs = [
      { data: l1Data, color: "#3a3a3a", size: 7.5 },
      { data: toPoints(h1Columns), color: "#000000", size: 7 },
      { data: toPoints(h2Columns), color: "#000000", size: 8 },
    ];

    const series = seriesDefs.map((s, i) => ({
      type: "scatter",
      name: panelNames[i],
      xAxisIndex: i * 2,
      yAxisIndex: i * 2,
      data: s.data,
      symbol: "circle",
      symbolSize: s.size,
      itemStyle: { color: s.color, opacity: 1 },
      silent: true,
      clip: false,
    }));

    const graphics: any[] = [
      {
        type: "text",
        x: 687,
        y: 26,
        style: { text: titleText, font: `26px ${FONT}`, fill: TEXT, textAlign: "center", textVerticalAlign: "middle" },
      },
      {
        type: "text",
        x: 686,
        y: 1072,
        style: { text: xAxisTitle, font: `24px ${FONT}`, fill: TEXT, textAlign: "center", textVerticalAlign: "middle" },
      },
    ];
    panelNames.forEach((name, i) => {
      graphics.push({
        type: "text",
        x: 35,
        y: gridTops[i] + gridHeights[i] / 2,
        rotation: Math.PI / 2,
        style: { text: name, font: `24px ${FONT}`, fill: TEXT, textAlign: "center", textVerticalAlign: "middle" },
      });
    });

    chart.setOption({
      animation: false,
      backgroundColor: "#ffffff",
      grid: grids,
      xAxis: xAxes,
      yAxis: yAxes,
      series,
      graphic: graphics,
    });

    return () => chart.dispose();
  }, []);

  return (
    <div
      ref={ref}
      style={{ position: "absolute", left: 0, top: 0, width: 1317, height: 1091, background: "#fff" }}
    />
  );
}
